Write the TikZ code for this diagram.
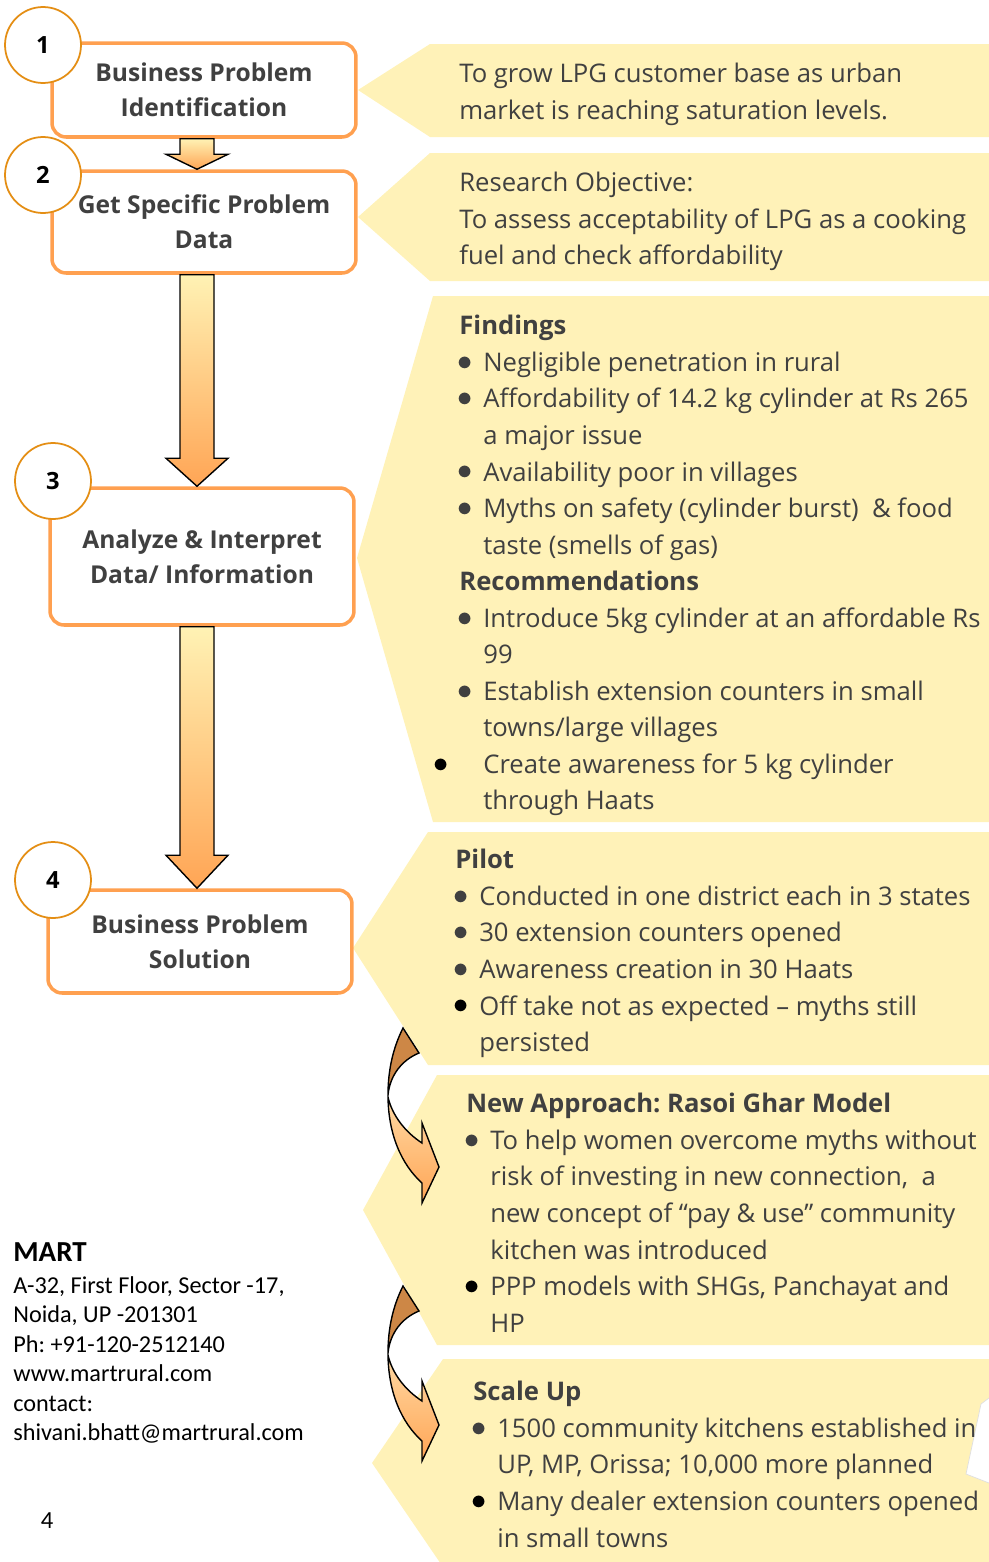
\documentclass[tikz,border=0pt]{standalone}
\usepackage{fontspec}
\setmainfont{Open Sans}
\newfontfamily\addrfont{Carlito}
\usetikzlibrary{calc}
\frenchspacing

\definecolor{boxline}{RGB}{255,160,80}
\definecolor{ringline}{RGB}{228,142,20}
\definecolor{notefill}{RGB}{255,242,184}
\definecolor{textgray}{RGB}{64,64,64}
\definecolor{arrowtop}{RGB}{255,242,180}
\definecolor{arrowbot}{RGB}{255,165,85}
\definecolor{turnbrown}{RGB}{205,135,70}
\definecolor{turntop}{RGB}{255,218,165}

\tikzset{
  stepbox/.style={draw=boxline, line width=2pt, rounded corners=8pt, fill=white,
    minimum width=6.08cm, align=center, text=textgray,
    font=\fontsize{14}{20}\selectfont\bfseries},
  numring/.style={circle, draw=ringline, line width=1pt, fill=white,
    minimum size=1.52cm, inner sep=0pt, font=\fontsize{13.5}{16}\selectfont\bfseries},
  callout/.style={fill=notefill},
  note/.style={anchor=north west, align=left, inner sep=0pt, text=textgray,
    font=\fontsize{14.6}{20.8}\selectfont},
  addr/.style={anchor=north west, align=left, inner sep=0pt,
    font=\addrfont\fontsize{13.8}{16.8}\selectfont},
  blockarrow/.style={draw=black, line width=0.8pt, top color=arrowtop,
    bottom color=arrowbot, line join=miter},
  turnarrow/.style={draw=black, line width=0.8pt, line join=miter}
}

% bullets
\newcommand{\dotmark}{\raisebox{0.6pt}{\fontsize{19}{19}\selectfont$\bullet$}}
\newcommand{\bul}{\hspace*{3.4pt}\makebox[0pt]{\dotmark}\hspace*{10.24pt}}
\newcommand{\bulk}{\hspace*{3.4pt}\makebox[0pt]{\textcolor{black}{\dotmark}}\hspace*{10.24pt}}
\newcommand{\blk}{\hspace*{-10.24pt}\makebox[0pt]{\textcolor{black}{\dotmark}}\hspace*{23.9pt}}
\newcommand{\cont}{\hspace*{13.66pt}}

% straight arrow: top, tip, head length
\newcommand{\blockarrow}[3]{%
  \draw[blockarrow] ($(#1)+(-17,0)$) -- ($(#2)+(-17,-#3)$) -- ($(#2)+(-31,-#3)$)
    -- (#2) -- ($(#2)+(31,-#3)$) -- ($(#2)+(17,-#3)$) -- ($(#1)+(17,0)$) -- cycle;}

% curved arrow, shifted down by #1
\newcommand{\turnarrow}[1]{%
  \begin{scope}[shift={(0,#1)}]
    \filldraw[turnarrow, fill=turnbrown] (403,1028)
      .. controls (393,1048) and (388,1070) .. (388,1095)
      .. controls (390,1075) and (402,1060) .. (419,1053) -- cycle;
    \draw[turnarrow, top color=turntop, bottom color=arrowbot] (388,1095)
      .. controls (388,1135) and (402,1165) .. (422,1183)
      -- (422,1203) -- (439,1167) -- (422,1123) -- (422,1143)
      .. controls (405,1132) and (392,1115) .. (388,1097) -- cycle;
  \end{scope}}

\begin{document}
\begin{tikzpicture}[x=0.02cm, y=-0.02cm]
  \useasboundingbox (0,0) rectangle (989,1562);

  % Callouts
  \fill[callout] (358,90) -- (430,44) -- (989,44) -- (989,137) -- (430,137) -- cycle;
  \fill[callout] (358,217) -- (430,153) -- (989,153) -- (989,281) -- (430,281) -- cycle;
  \fill[callout] (357,558) -- (433,296) -- (989,296) -- (989,822) -- (433,822) -- cycle;
  \fill[callout] (353,948) -- (428,832) -- (989,832) -- (989,1065) -- (428,1065) -- cycle;
  \fill[callout] (363,1210) -- (437,1075) -- (989,1075) -- (989,1345) -- (437,1345) -- cycle;
  \fill[callout] (372,1463) -- (443,1359) -- (989,1359) -- (989,1567) -- (443,1567) -- cycle;
  \filldraw[fill=white, draw=gray!25] (989,1398) -- (981,1404) -- (966,1474) -- (989,1483);

  % Steps
  \coordinate (axis) at (197,0);
  \path (204,90) coordinate (c1) (204,222) coordinate (c2)
        (202,556.5) coordinate (c3) (200,941.5) coordinate (c4);
  \path (c1) node[stepbox, minimum height=1.88cm] (b1) {Business Problem\\Identification};
  \path (c2) node[stepbox, minimum height=2.04cm] (b2) {Get Specific Problem\\Data};
  \path (c3) node[stepbox, minimum height=2.74cm] (b3) {Analyze \& Interpret\\Data/ Information};
  \path (c4) node[stepbox, minimum height=2.06cm] (b4) {Business Problem\\Solution};

  % Arrows between steps
  \coordinate (a1s) at (axis |- b1.south);
  \coordinate (a1e) at (axis |- b2.north);
  \coordinate (a2s) at (axis |- b2.south);
  \coordinate (a2e) at (axis |- b3.north);
  \coordinate (a3s) at (axis |- b3.south);
  \coordinate (a3e) at (axis |- b4.north);
  \blockarrow{a1s}{a1e}{15}
  \blockarrow{a2s}{a2e}{28}
  \blockarrow{a3s}{a3e}{33}

  % Numbers
  \node[numring] (n1) at (43,45) {1};
  \node[numring] (n2) at (43,175) {2};
  \node[numring] (n3) at (53,481) {3};
  \node[numring] (n4) at (53,880) {4};

  % Texts
  \node[note] (goal) at (459,63) {To grow LPG customer base as urban\\
    market is reaching saturation levels.};
  \node[note] (obj) at (459,172) {Research Objective:\\
    To assess acceptability of LPG as a cooking\\
    fuel and check affordability};
  \node[note] (find) at (459,315) {\textbf{Findings}\\
    \bul Negligible penetration in rural\\
    \bul Affordability of 14.2 kg cylinder at Rs 265\\
    \cont a major issue\\
    \bul Availability poor in villages\\
    \bul Myths on safety (cylinder burst) \ \& food\\
    \cont taste (smells of gas)\\
    \textbf{Recommendations}\\
    \bul Introduce 5kg cylinder at an affordable Rs\\
    \cont 99\\
    \bul Establish extension counters in small\\
    \cont towns/large villages\\
    \blk Create awareness for 5 kg cylinder\\
    \cont through Haats};
  \node[note] (pilot) at (455,849) {\textbf{Pilot}\\
    \bul Conducted in one district each in 3 states\\
    \bul 30 extension counters opened\\
    \bul Awareness creation in 30 Haats\\
    \bulk Off take not as expected -- myths still\\
    \cont persisted};
  \node[note] (rasoi) at (466,1093) {\textbf{New Approach: Rasoi Ghar Model}\\
    \bul To help women overcome myths without\\
    \cont risk of investing in new connection, \ a\\
    \cont new concept of “pay \& use” community\\
    \cont kitchen was introduced\\
    \bulk PPP models with SHGs, Panchayat and\\
    \cont HP};
  \node[note] (scale) at (473,1381) {\textbf{Scale Up}\\
    \bul 1500 community kitchens established in\\
    \cont UP, MP, Orissa; 10,000 more planned\\
    \bulk Many dealer extension counters opened\\
    \cont in small towns};

  % Curved arrows
  \turnarrow{0}
  \turnarrow{258}

  % Address
  \node[addr, font=\addrfont\fontsize{16.5}{18}\selectfont\bfseries] (mart) at (13,1242) {MART};
  \node[addr] (post) at (13,1276) {A-32, First Floor, Sector -17,\\
    Noida, UP -201301\\
    Ph: +91-120-2512140\\
    www.martrural.com\\
    contact:\\
    shivani.bhatt@martrural.com};
  \node[font=\addrfont\fontsize{14}{16}\selectfont] (page) at (47,1521) {4};
\end{tikzpicture}
\end{document}
